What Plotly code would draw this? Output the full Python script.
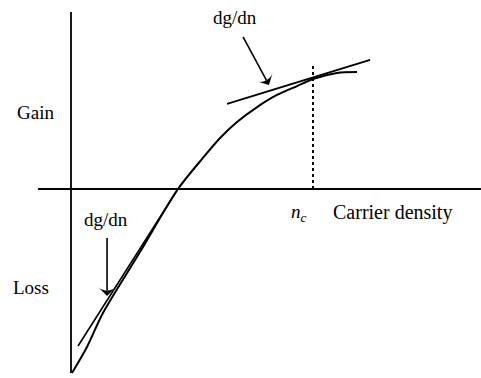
import plotly.graph_objects as go

# Gain curve (arbitrary units: carrier density normalised to n_c, gain to g(n_c))
density = [0.004, 0.066, 0.132, 0.285, 0.442, 0.545, 0.616, 0.686, 0.769, 0.851, 0.934, 1.0, 1.099, 1.182]
gain = [-1.673, -1.436, -1.127, -0.573, 0.0, 0.282, 0.464, 0.609, 0.745, 0.855, 0.936, 1.0, 1.055, 1.064]

# Tangent lines (dg/dn)
tan_hi_x = [0.645, 1.236]
tan_hi_y = [0.773, 1.173]
tan_lo_x = [0.029, 0.434]
tan_lo_y = [-1.427, -0.027]

# Arrows pointing at tangents (tail, tip)
arrow_hi_x = [0.711, 0.818]
arrow_hi_y = [1.382, 0.945]
arrow_lo_x = [0.149, 0.149]
arrow_lo_y = [-0.445, -0.973]

# n_c marker
n_c = 1.0
g_c_top = 1.145

# axes extents
x_axis_x = [-0.136, 1.694]
y_axis_y = [-1.673, 1.609]

FONT = "Liberation Serif, Times New Roman, serif"
BLK = "black"

fig = go.Figure()
# axes lines
fig.add_trace(go.Scatter(x=x_axis_x, y=[0, 0], mode="lines", line=dict(color=BLK, width=1.8), hoverinfo="skip"))
fig.add_trace(go.Scatter(x=[0, 0], y=y_axis_y, mode="lines", line=dict(color=BLK, width=1.8), hoverinfo="skip"))
# dotted n_c line
fig.add_trace(go.Scatter(x=[n_c, n_c], y=[0, g_c_top], mode="lines", line=dict(color=BLK, width=2, dash="dot"), hoverinfo="skip"))
# curve
fig.add_trace(go.Scatter(x=density, y=gain, mode="lines", line=dict(color=BLK, width=2, shape="spline", smoothing=0.8), hoverinfo="skip"))
# tangents
fig.add_trace(go.Scatter(x=tan_hi_x, y=tan_hi_y, mode="lines", line=dict(color=BLK, width=1.8), hoverinfo="skip"))
fig.add_trace(go.Scatter(x=tan_lo_x, y=tan_lo_y, mode="lines", line=dict(color=BLK, width=1.6), hoverinfo="skip"))

# arrows
for ax_, ay_ in [(arrow_hi_x, arrow_hi_y), (arrow_lo_x, arrow_lo_y)]:
    fig.add_trace(go.Scatter(
        x=ax_, y=ay_, mode="lines+markers", line=dict(color=BLK, width=1.6),
        marker=dict(symbol=["circle", "arrow-wide"], size=[0, 13], color=BLK,
                    angleref="previous", line=dict(width=0), opacity=1),
        hoverinfo="skip"))

labels = [
    ("dg/dn", 0.676, 1.555, 19),
    ("Gain", -0.147, 0.70, 19),
    ("Loss", -0.165, -0.891, 19),
    ("dg/dn", 0.145, -0.273, 19),
    ("<i>n<sub>c</sub></i>", 0.942, -0.218, 19),
    ("Carrier density", 1.329, -0.218, 20),
]
for t, x, y, s in labels:
    fig.add_annotation(x=x, y=y, text=t, showarrow=False, xref="x", yref="y",
                       font=dict(family=FONT, size=s, color=BLK))

fig.update_layout(
    width=481, height=378, margin=dict(l=0, r=0, t=0, b=0),
    paper_bgcolor="white", plot_bgcolor="white", showlegend=False,
    xaxis=dict(range=[-71/242, 410/242], visible=False, fixedrange=True),
    yaxis=dict(range=[-189/110, 189/110], visible=False, fixedrange=True),
)
fig.write_html("out.html", config={"displayModeBar": False},
               post_script="document.body.style.margin='0px';")
